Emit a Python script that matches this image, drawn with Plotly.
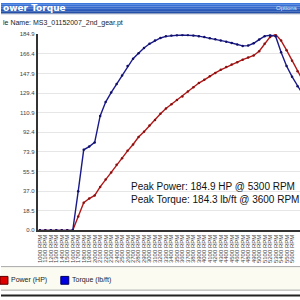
import plotly.graph_objects as go

rpm = list(range(1000, 5900, 100))
power_hp = [0, 0, 0, 0, 0, 0, 0, 13, 26, 30, 33, 41, 48, 54.5, 62, 68, 75, 81, 88, 93,
            99, 104, 110, 115, 119, 123, 126.3, 131, 135, 139, 142, 145.5, 148.5, 151.5,
            154, 156.5, 158.5, 161, 163, 165, 169, 176, 182.5, 184.9, 179, 170, 160, 150, 141]
torque_lbft = [0, 0, 0, 0, 0, 0, 0, 37, 76, 79, 83, 108, 121, 130, 138, 146, 155, 162, 167,
               172, 176, 179, 181.5, 183, 183.8, 184.1, 184.3, 184.2, 183.8, 183.2, 182.3,
               181.3, 180.3, 179.2, 178, 176.8, 175.3, 174, 174.3, 176.5, 180, 183.2, 184,
               183.2, 168, 155, 145, 136, 128]
y_tick_vals = [0, 18.49, 36.98, 55.47, 73.96, 92.45, 110.94, 129.43, 147.92, 166.41, 184.9]
y_tick_text = ["0.0", "18.5", "37.0", "55.5", "73.9", "92.4", "110.9", "129.4", "147.9", "166.4", "184.9"]
x_tick_text = [f"{r} RPM" for r in rpm]

W = H = 300
def px(x): return x / W
def py(y): return 1 - y / H

fig = go.Figure()
fig.add_trace(go.Scatter(x=rpm, y=power_hp, mode="lines+markers", name="Power (HP)",
                         line=dict(color="#b01818", width=1.4),
                         marker=dict(size=2.5, color="#8a1010"), cliponaxis=True))
fig.add_trace(go.Scatter(x=rpm, y=torque_lbft, mode="lines+markers", name="Torque (lb/ft)",
                         line=dict(color="#1a1a8a", width=1.4),
                         marker=dict(size=2.5, color="#10106a"), cliponaxis=True))

fig.update_layout(
    width=W, height=H, margin=dict(l=0, r=0, t=0, b=0),
    paper_bgcolor="white", plot_bgcolor="white", showlegend=False,
    font=dict(family="Liberation Sans, Arial, sans-serif", color="#222"),
    xaxis=dict(domain=[px(37), 1], range=[964, 5745], tickvals=rpm, ticktext=x_tick_text,
               tickangle=-90, tickfont=dict(size=6, color="#444"), showgrid=False,
               showline=True, linecolor="#333", linewidth=2, ticks="", zeroline=False),
    yaxis=dict(domain=[py(232), py(32)], range=[0, 184.9], tickvals=y_tick_vals,
               ticktext=y_tick_text, tickfont=dict(size=6, color="#444"),
               showgrid=True, gridcolor="#e6e6e6", gridwidth=1,
               showline=True, linecolor="#333", linewidth=2, ticks="", zeroline=False),
)

shapes = []
bands = ["#3d78dc", "#3a70d4", "#3468cc", "#2f60c2", "#2a58b6", "#2450a8"]
for i, c in enumerate(bands):
    shapes.append(dict(type="rect", xref="paper", yref="paper", x0=0, x1=1,
                       y0=py(i * 1.8 + 1.8), y1=py(i * 1.8), line=dict(width=0), fillcolor=c, layer="above"))
shapes.append(dict(type="line", xref="paper", yref="paper", x0=0, x1=1, y0=py(11), y1=py(11),
                   line=dict(color="#8a9ab8", width=1)))
shapes.append(dict(type="rect", xref="paper", yref="paper", x0=0, x1=1, y0=py(293), y1=py(269),
                   fillcolor="#fbfbf2", line=dict(width=0)))
shapes.append(dict(type="line", xref="paper", yref="paper", x0=0, x1=1, y0=py(269), y1=py(269),
                   line=dict(color="#a8a8a8", width=1)))
shapes.append(dict(type="line", xref="paper", yref="paper", x0=0, x1=1, y0=py(293), y1=py(293),
                   line=dict(color="#a8a8a8", width=1)))
shapes.append(dict(type="line", xref="paper", yref="paper", x0=0, x1=1, y0=py(298.5), y1=py(298.5),
                   line=dict(color="#222", width=2)))
shapes.append(dict(type="rect", xref="paper", yref="paper", x0=px(-1), x1=px(7), y0=py(287), y1=py(279),
                   fillcolor="#e00000", line=dict(color="#600000", width=1)))
shapes.append(dict(type="rect", xref="paper", yref="paper", x0=px(60), x1=px(68), y0=py(287), y1=py(279),
                   fillcolor="#0000e0", line=dict(color="#000060", width=1)))
fig.update_layout(shapes=shapes)

ann = [
    dict(text="<b>ower Torque</b>", x=px(0), y=py(5.5), xanchor="left", yanchor="middle",
         font=dict(size=9, color="white", family="DejaVu Sans, sans-serif")),
    dict(text="Options", x=px(299), y=py(5.5), xanchor="right", yanchor="middle",
         font=dict(size=6, color="#dde6f5")),
    dict(text="le Name: MS3_01152007_2nd_gear.pt", x=px(0), y=py(20), xanchor="left", yanchor="middle",
         font=dict(size=7, color="#222")),
    dict(text="Peak Power: 184.9 HP @ 5300 RPM", x=px(128), y=py(187), xanchor="left", yanchor="middle",
         font=dict(size=10, color="#111")),
    dict(text="Peak Torque: 184.3 lb/ft @ 3600 RPM", x=px(128), y=py(200), xanchor="left", yanchor="middle",
         font=dict(size=10, color="#111")),
    dict(text="Power (HP)", x=px(8), y=py(283), xanchor="left", yanchor="middle",
         font=dict(size=7, color="#222")),
    dict(text="Torque (lb/ft)", x=px(69), y=py(283), xanchor="left", yanchor="middle",
         font=dict(size=7, color="#222")),
]
for a in ann:
    a.update(xref="paper", yref="paper", showarrow=False)
fig.update_layout(annotations=ann)

fig.write_html("out.html")
